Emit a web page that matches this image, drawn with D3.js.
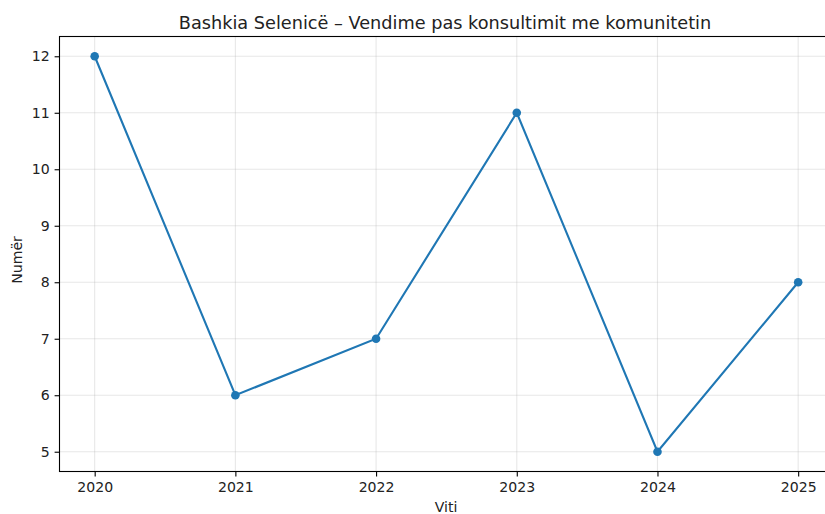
<!DOCTYPE html>
<html>
<head>
<meta charset="utf-8">
<script src="https://cdn.jsdelivr.net/npm/d3@7"></script>
<style>
  body { margin: 0; background: #fff; }
  svg { display: block; font-family: "DejaVu Sans", sans-serif; }
</style>
</head>
<body>
<svg width="825" height="514"></svg>
<script>
const years = [2020, 2021, 2022, 2023, 2024, 2025];
const values = [12, 6, 7, 11, 5, 8];
const yTicks = [5, 6, 7, 8, 9, 10, 11, 12];

const svg = d3.select('svg');
const plotLeft = 59.5, plotTop = 36.5, plotBottom = 471.5;
const plotRight = plotLeft + 5.5 * 140.7;

const x = d3.scaleLinear().domain([2019.75, 2025.25]).range([plotLeft, plotRight]);
const y = d3.scaleLinear().domain([4.65, 12.35]).range([plotBottom, plotTop]);

// grid
svg.append('g')
  .selectAll('line')
  .data(years)
  .join('line')
  .attr('x1', (d) => x(d)).attr('x2', (d) => x(d))
  .attr('y1', plotTop).attr('y2', plotBottom)
  .attr('stroke', '#b0b0b0').attr('stroke-opacity', 0.3).attr('stroke-width', 1.1);

svg.append('g')
  .selectAll('line')
  .data(yTicks)
  .join('line')
  .attr('x1', plotLeft).attr('x2', plotRight)
  .attr('y1', (d) => y(d)).attr('y2', (d) => y(d))
  .attr('stroke', '#b0b0b0').attr('stroke-opacity', 0.3).attr('stroke-width', 1.1);

// axes
const xAxis = svg.append('g')
  .attr('transform', `translate(0,${plotBottom})`)
  .call(d3.axisBottom(x).tickValues(years).tickFormat(d3.format('d')).tickSize(4.9).tickPadding(5.5));
const yAxis = svg.append('g')
  .attr('transform', `translate(${plotLeft},0)`)
  .call(d3.axisLeft(y).tickValues(yTicks).tickSize(4.9).tickPadding(5));

[xAxis, yAxis].forEach((g) => {
  g.select('.domain').remove();
  g.selectAll('.tick line').attr('stroke', '#000').attr('stroke-width', 1.1);
  g.selectAll('.tick text')
    .attr('fill', '#222')
    .style('font-family', '"DejaVu Sans", sans-serif')
    .style('font-size', '14.1px');
});

// spines
svg.append('rect')
  .attr('x', plotLeft).attr('y', plotTop)
  .attr('width', plotRight - plotLeft).attr('height', plotBottom - plotTop)
  .attr('fill', 'none').attr('stroke', '#000').attr('stroke-width', 1.1);

// line + markers
const line = d3.line()
  .x((d, i) => x(years[i]))
  .y((d) => y(d));

svg.append('path')
  .attr('d', line(values))
  .attr('fill', 'none')
  .attr('stroke', '#1f77b4')
  .attr('stroke-width', 2.1);

svg.append('g')
  .selectAll('circle')
  .data(values)
  .join('circle')
  .attr('cx', (d, i) => x(years[i]))
  .attr('cy', (d) => y(d))
  .attr('r', 4.3)
  .attr('fill', '#1f77b4');

// labels
svg.append('text')
  .attr('x', 445).attr('y', 28.5)
  .attr('text-anchor', 'middle')
  .style('font-size', '17.7px')
  .attr('fill', '#222')
  .text('Bashkia Selenicë – Vendime pas konsultimit me komunitetin');

svg.append('text')
  .attr('x', 446).attr('y', 512)
  .attr('text-anchor', 'middle')
  .style('font-size', '14.1px')
  .attr('fill', '#222')
  .text('Viti');

svg.append('text')
  .attr('transform', `translate(21.5,${(plotTop + plotBottom) / 2 + 6}) rotate(-90)`)
  .attr('text-anchor', 'middle')
  .style('font-size', '14.1px')
  .attr('fill', '#222')
  .text('Numër');
</script>
</body>
</html>
